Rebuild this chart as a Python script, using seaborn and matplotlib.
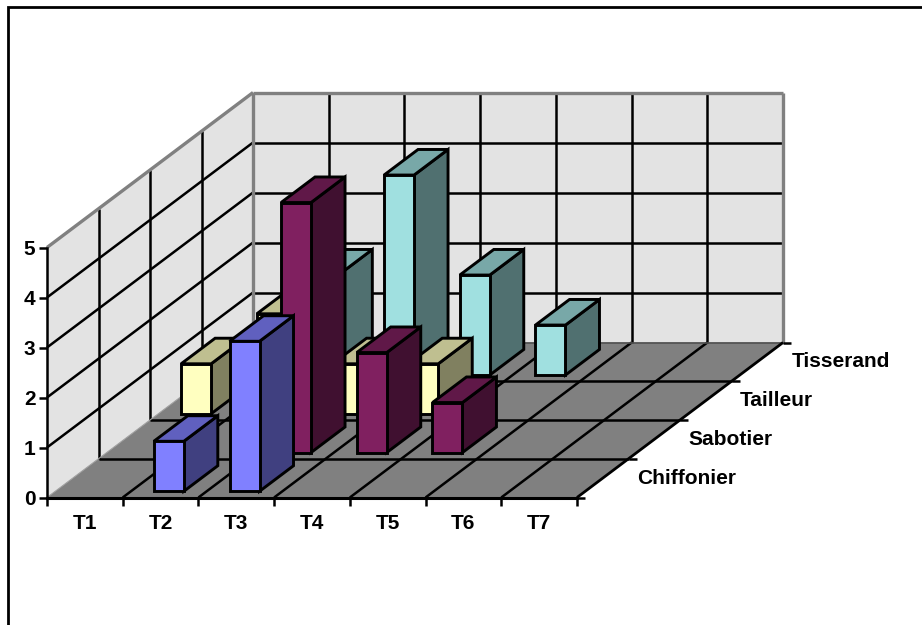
import matplotlib
matplotlib.use('Agg')
import matplotlib.pyplot as plt
import numpy as np
import pandas as pd
import seaborn as sns
from matplotlib.lines import Line2D
from matplotlib.transforms import Affine2D


CATEGORIES = ['T1', 'T2', 'T3', 'T4', 'T5', 'T6', 'T7']
SERIES = ['Chiffonier', 'Sabotier', 'Tailleur', 'Tisserand']
CHIFFONIER = [np.nan, 1, 3, np.nan, np.nan, np.nan, np.nan]
SABOTIER = [np.nan, np.nan, 5, 2, 1, np.nan, np.nan]
TAILLEUR = [1, 2, 1, 1, np.nan, np.nan, np.nan]
TISSERAND = [np.nan, 2, 4, 2, 1, np.nan, np.nan]
VALUE_TICKS = [0, 1, 2, 3, 4, 5]

FRONT_COLORS = ['#8080ff', '#802060', '#ffffc0', '#a0e0e0']

# oblique projection: one series step back, in data units of the front plane
DEPTH_DX = 51.5 / 75.7
DEPTH_DY = 38.75 / 50.0
BAR_WIDTH = 0.396
BAR_START = 0.16
BAR_DEPTH = 0.66

GRID_LW = 1.8
BAR_LW = 2.1
FONT_SIZE = 15

W, H = 922, 625


def proj(x, y, d):
    return x + d * DEPTH_DX, y + d * DEPTH_DY


def shade(color, factor):
    r, g, b = matplotlib.colors.to_rgb(color)
    return (r * factor, g * factor, b * factor)


def draw_poly(ax, corners, z, **kwargs):
    xs, ys = zip(*[proj(*c) for c in corners])
    ax.fill(xs, ys, clip_on=False, zorder=z, **kwargs)


def draw_line(ax, start, end, color='black', lw=GRID_LW, z=1.5):
    xs, ys = zip(proj(*start), proj(*end))
    ax.plot(xs, ys, color=color, lw=lw, zorder=z, clip_on=False,
            solid_capstyle='butt')


def draw_box(ax):
    n = len(CATEGORIES)
    depth = len(SERIES)
    top = VALUE_TICKS[-1]
    left, right = -0.5, n - 0.5

    # back wall, left wall, floor
    draw_poly(ax, [(left, 0, depth), (right, 0, depth), (right, top, depth), (left, top, depth)],
              1, facecolor='#e3e3e3', edgecolor='none')
    draw_poly(ax, [(left, 0, 0), (left, 0, depth), (left, top, depth), (left, top, 0)],
              1, facecolor='#e3e3e3', edgecolor='none')
    draw_poly(ax, [(left, 0, 0), (right, 0, 0), (right, 0, depth), (left, 0, depth)],
              1.1, facecolor='#808080', edgecolor='none')

    for v in VALUE_TICKS[1:-1]:
        draw_line(ax, (left, v, depth), (right, v, depth))
        draw_line(ax, (left, v, 0), (left, v, depth))
    for i in range(1, n):
        draw_line(ax, (left + i, 0, depth), (left + i, top, depth))
        draw_line(ax, (left + i, 0, 0), (left + i, 0, depth))
    for d in range(1, depth):
        draw_line(ax, (left, 0, d), (left, top, d))
        draw_line(ax, (left, 0, d), (right, 0, d))

    # wall outlines are grey, the floor's right edge is black
    draw_line(ax, (left, top, 0), (left, top, depth), color='#808080', lw=2.4, z=1.6)
    draw_line(ax, (left, top, depth), (right, top, depth), color='#808080', lw=2.4, z=1.6)
    draw_line(ax, (left, 0, depth), (left, top, depth), color='#808080', lw=2.4, z=1.6)
    draw_line(ax, (right, 0, depth), (right, top, depth), color='#808080', lw=2.4, z=1.6)
    draw_line(ax, (left, 0, 0), (left, 0, depth), color='#a0a0a0', lw=0.8, z=1.6)
    draw_line(ax, (left, 0, depth), (right, 0, depth), color='#505050', lw=1.2, z=1.6)
    draw_line(ax, (right, 0, 0), (right, 0, depth), lw=2.0, z=1.6)

    # depth ticks and series names sit on the floor's right edge
    tick = 8 / 75.7
    for d in range(depth + 1):
        draw_line(ax, (right, 0, d), (right + tick, 0, d), z=1.6)
    for d, name in enumerate(SERIES):
        ax.annotate(name, xy=proj(right, 0, d + 0.5), xytext=(24.5, 0),
                    textcoords='offset points', va='center', ha='left',
                    fontsize=FONT_SIZE, fontweight='bold', color='black',
                    annotation_clip=False)


def draw_bars(ax):
    all_values = [CHIFFONIER, SABOTIER, TAILLEUR, TISSERAND]
    # painter's order, back row first
    for s in range(len(SERIES) - 1, -1, -1):
        df = pd.DataFrame({'Cat': CATEGORIES, 'Value': all_values[s]}).dropna()
        before = len(ax.patches)
        color = FRONT_COLORS[s]
        sns.barplot(data=df, x='Cat', y='Value', order=CATEGORIES, ax=ax,
                    color=color, saturation=1, width=BAR_WIDTH, errorbar=None,
                    edgecolor='black', linewidth=BAR_LW)

        z = 10 + (len(SERIES) - s) * 3
        d0 = BAR_START + s
        d1 = d0 + BAR_DEPTH
        dx, dy = proj(0, 0, d0)
        shift = Affine2D().translate(dx, dy) + ax.transData

        for p in ax.patches[before:]:
            h = p.get_height()
            if np.isnan(h) or h == 0:
                continue
            x0 = p.get_x()
            x1 = x0 + p.get_width()
            p.set_transform(shift)
            p.set_zorder(z + 2)
            p.set_clip_on(False)
            p.set_joinstyle('miter')
            draw_poly(ax, [(x1, 0, d0), (x1, 0, d1), (x1, h, d1), (x1, h, d0)], z,
                      facecolor=shade(color, 0.5), edgecolor='black', linewidth=BAR_LW)
            draw_poly(ax, [(x0, h, d0), (x1, h, d0), (x1, h, d1), (x0, h, d1)], z + 1,
                      facecolor=shade(color, 0.75), edgecolor='black', linewidth=BAR_LW)


def main():
    sns.set_theme(style='ticks')
    plt.rcParams['font.family'] = ['Liberation Sans', 'DejaVu Sans']

    fig = plt.figure(figsize=(W / 100, H / 100), dpi=100)
    ax = fig.add_axes([47 / W, (H - 497.5) / H, 530 / W, 250 / H])
    ax.patch.set_visible(False)

    draw_box(ax)
    draw_bars(ax)

    ax.set_xlim(-0.5, len(CATEGORIES) - 0.5)
    ax.set_ylim(VALUE_TICKS[0], VALUE_TICKS[-1])
    ax.set_xlabel('')
    ax.set_ylabel('')

    # ticks sit between categories, labels in the middle of each
    ax.set_xticks(np.arange(len(CATEGORIES) + 1) - 0.5)
    ax.set_xticklabels([])
    ax.set_xticks(np.arange(len(CATEGORIES)), minor=True)
    ax.set_xticklabels(CATEGORIES, minor=True, fontsize=FONT_SIZE, fontweight='bold', color='black')
    ax.tick_params(axis='x', which='major', length=5.8, width=1.8, color='black')
    ax.tick_params(axis='x', which='minor', length=0, pad=12)
    ax.set_yticks(VALUE_TICKS)
    ax.set_yticklabels([str(v) for v in VALUE_TICKS], fontsize=FONT_SIZE, fontweight='bold', color='black')
    ax.tick_params(axis='y', length=5.8, width=1.8, pad=2.5, color='black')

    sns.despine(ax=ax, top=True, right=True)
    ax.spines['left'].set_linewidth(1.8)
    ax.spines['left'].set_color('black')
    ax.spines['bottom'].set_linewidth(2.2)
    ax.spines['bottom'].set_color('black')

    # chart frame, only top and left fall inside the crop
    fig.add_artist(Line2D([8 / W, 8 / W, 1], [0, 1 - 7 / H, 1 - 7 / H],
                          color='black', lw=2.0, solid_joinstyle='miter'))

    fig.savefig('out.png', dpi=100)
    plt.close(fig)


if __name__ == '__main__':
    main()
